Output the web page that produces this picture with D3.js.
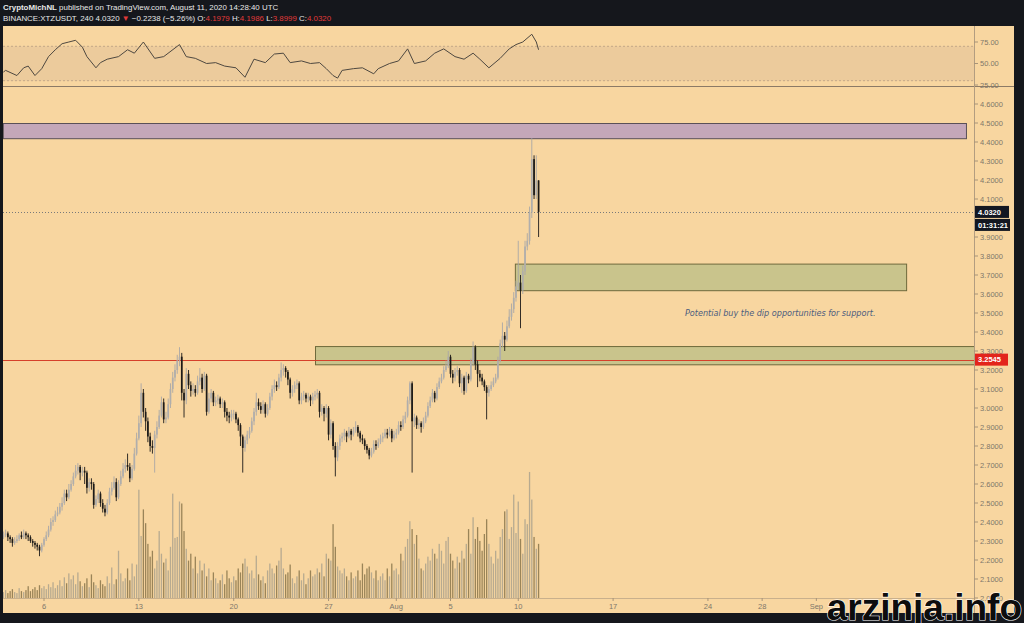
<!DOCTYPE html>
<html><head><meta charset="utf-8">
<script src="https://cdn.jsdelivr.net/npm/d3@7"></script>
<style>html,body{margin:0;padding:0;background:#15171c;}svg{display:block;}</style>
</head><body><svg id="c" width="1024" height="623"></svg>
<script>
// ---- DATA (BINANCE:XTZUSDT, 4h candles from 2020-07-03 00:00 UTC) ----
const firstOpen = 2.32;
const closes = [
 2.33,2.34,2.32,2.31,2.29,2.30, 2.31,2.33,2.32,2.34,2.33,2.32, 2.30,2.29,2.28,2.27,2.25,2.28,
 2.31,2.33,2.36,2.40,2.41,2.44, 2.45,2.48,2.50,2.55,2.53,2.57, 2.60,2.64,2.67,2.69,2.66,2.67,
 2.66,2.58,2.61,2.60,2.49,2.52, 2.55,2.50,2.47,2.45,2.50,2.56, 2.58,2.61,2.53,2.60,2.64,2.68,
 2.70,2.69,2.63,2.68,2.76,2.84, 2.92,3.08,2.98,2.93,2.85,2.80, 2.79,2.86,2.90,2.96,3.03,2.94,
 2.95,3.02,3.10,3.16,3.20,3.25, 3.27,3.08,3.04,3.18,3.12,3.09, 3.10,3.08,3.14,3.16,3.10,3.17,
 2.98,3.05,3.08,3.03,3.04,3.05, 3.02,3.03,2.98,2.96,2.95,2.97, 2.97,2.94,2.91,2.85,2.79,2.83,
 2.86,2.88,2.93,2.98,3.03,3.01, 2.99,3.02,2.97,3.00,3.06,3.10, 3.12,3.11,3.16,3.20,3.21,3.19,
 3.15,3.08,3.10,3.12,3.13,3.04, 3.06,3.07,3.05,3.06,3.04,3.06, 3.07,3.08,2.98,3.00,2.97,3.00,
 2.86,2.92,2.80,2.74,2.80,2.84, 2.85,2.87,2.85,2.88,2.86,2.88, 2.90,2.87,2.84,2.83,2.80,2.78,
 2.75,2.77,2.81,2.80,2.82,2.84, 2.85,2.87,2.86,2.88,2.84,2.86, 2.87,2.91,2.90,2.94,2.96,3.04,
 3.13,2.93,2.95,2.91,2.92,2.90, 2.93,2.96,3.01,3.04,3.08,3.05, 3.11,3.14,3.16,3.20,3.22,3.27,
 3.18,3.16,3.19,3.20,3.13,3.16, 3.09,3.17,3.15,3.24,3.32,3.23, 3.18,3.16,3.14,3.11,3.08,3.10,
 3.12,3.14,3.16,3.25,3.34,3.38, 3.36,3.43,3.48,3.52,3.58,3.64, 3.66,3.62,3.72,3.85,3.88,4.03,
 4.31,4.12,4.1979,4.032];
const highs = [
 2.35,2.36,2.35,2.33,2.32,2.32, 2.33,2.34,2.35,2.36,2.35,2.34, 2.33,2.31,2.30,2.29,2.28,2.29,
 2.32,2.35,2.38,2.42,2.43,2.46, 2.48,2.50,2.53,2.57,2.57,2.60, 2.62,2.66,2.70,2.71,2.70,2.69,
 2.69,2.67,2.63,2.63,2.61,2.54, 2.57,2.56,2.52,2.49,2.52,2.58, 2.61,2.64,2.63,2.62,2.67,2.71,
 2.73,2.76,2.71,2.70,2.79,2.87, 2.96,3.13,3.10,3.00,2.95,2.87, 2.83,2.88,2.93,2.99,3.06,3.05,
 2.98,3.05,3.13,3.19,3.23,3.28, 3.32,3.29,3.10,3.21,3.20,3.14, 3.13,3.12,3.17,3.21,3.18,3.19,
 3.18,3.08,3.10,3.09,3.06,3.07, 3.06,3.05,3.04,3.00,2.98,2.99, 2.99,2.98,2.95,2.92,2.86,2.85,
 2.88,2.90,2.95,3.00,3.08,3.05, 3.03,3.04,3.03,3.02,3.08,3.12, 3.15,3.14,3.18,3.24,3.23,3.22,
 3.20,3.16,3.12,3.14,3.15,3.14, 3.08,3.09,3.08,3.08,3.07,3.08, 3.09,3.10,3.09,3.02,3.01,3.02,
 3.01,2.94,2.93,2.82,2.82,2.86, 2.87,2.89,2.88,2.90,2.89,2.90, 2.93,2.91,2.88,2.86,2.84,2.81,
 2.79,2.79,2.83,2.83,2.84,2.86, 2.87,2.89,2.89,2.90,2.89,2.88, 2.89,2.93,2.93,2.96,2.98,3.06,
 3.14,3.14,2.97,2.96,2.94,2.93, 2.95,2.98,3.03,3.06,3.10,3.09, 3.13,3.16,3.18,3.22,3.25,3.30,
 3.28,3.20,3.21,3.22,3.21,3.18, 3.17,3.19,3.18,3.26,3.35,3.33, 3.25,3.20,3.18,3.15,3.12,3.12,
 3.14,3.16,3.18,3.27,3.36,3.45, 3.40,3.46,3.52,3.55,3.61,3.67, 3.88,3.70,3.75,3.88,3.92,4.06,
 4.42,4.33,4.33,4.1986];
const lows = [
 2.31,2.32,2.30,2.29,2.27,2.28, 2.29,2.30,2.31,2.31,2.31,2.30, 2.29,2.27,2.26,2.25,2.22,2.24,
 2.27,2.30,2.32,2.35,2.38,2.40, 2.43,2.44,2.46,2.49,2.51,2.52, 2.56,2.59,2.63,2.65,2.62,2.64,
 2.60,2.55,2.56,2.57,2.47,2.48, 2.50,2.48,2.45,2.43,2.44,2.49, 2.54,2.57,2.51,2.52,2.59,2.63,
 2.66,2.67,2.61,2.62,2.67,2.75, 2.83,2.90,2.95,2.88,2.82,2.77, 2.76,2.66,2.84,2.89,2.95,2.92,
 2.92,2.94,3.00,3.08,3.14,3.18, 3.22,3.04,2.95,3.02,3.10,3.06, 3.07,3.06,3.07,3.12,3.08,3.09,
 2.96,2.97,3.03,3.01,3.01,3.02, 3.00,3.00,2.95,2.93,2.92,2.93, 2.94,2.92,2.88,2.80,2.66,2.77,
 2.81,2.84,2.87,2.91,2.96,2.99, 2.97,2.97,2.95,2.96,2.99,3.04, 3.08,3.09,3.10,3.14,3.17,3.16,
 3.12,3.05,3.06,3.08,3.10,3.02, 3.02,3.04,3.03,3.03,3.01,3.02, 3.04,3.05,2.95,2.96,2.93,2.95,
 2.83,2.84,2.78,2.64,2.72,2.78, 2.82,2.83,2.82,2.84,2.83,2.85, 2.87,2.85,2.82,2.81,2.78,2.76,
 2.73,2.74,2.76,2.78,2.79,2.81, 2.82,2.84,2.84,2.85,2.82,2.83, 2.84,2.86,2.88,2.89,2.92,2.95,
 3.02,2.66,2.90,2.89,2.89,2.87, 2.89,2.92,2.95,3.00,3.03,3.03, 3.04,3.10,3.13,3.15,3.19,3.21,
 3.16,3.13,3.14,3.17,3.11,3.08, 3.07,3.08,3.13,3.14,3.22,3.20, 3.11,3.14,3.12,3.09,2.94,3.06,
 3.09,3.11,3.13,3.15,3.24,3.32, 3.30,3.35,3.42,3.46,3.50,3.56, 3.62,3.42,3.60,3.70,3.83,3.86,
 4.00,4.10,4.10,3.8999];
const volumes = [
 6,8,5,7,9,6, 5,10,7,6,8,12, 7,9,11,8,13,10, 12,9,14,11,16,10, 13,18,12,21,15,25, 19,23,14,26,17,12,
 15,20,11,24,16,13, 10,18,14,12,22,15, 31,14,19,48,25,17, 20,30,18,35,22,34, 110,63,90,76,55,42,
 48,30,38,68,45,36, 40,28,52,106,61,62, 98,96,68,50,38,45, 30,42,25,38,28,35, 22,30,18,26,20,15,
 18,24,14,28,20,16, 22,18,30,26,35,40, 32,25,28,20,43,24, 18,22,15,28,35,30, 25,33,38,51,30,24,
 26,34,20,15,22,28, 18,25,14,20,28,22, 24,30,26,35,22,45, 40,38,75,52,32,28, 25,30,22,18,26,20,
 22,28,18,35,24,30, 32,26,20,28,18,22, 25,18,30,22,35,28, 30,24,45,38,52,60, 78,70,55,64,40,30,
 28,35,42,38,50,45, 40,55,48,35,58,62, 45,38,30,42,36,48, 40,55,70,45,82,60, 72,58,48,65,80,55,
 42,35,48,40,62,70, 88,90,60,72,105,66, 98,60,45,80,75,128, 100,62,50,55];
// RSI(14) readings at given candle indices
const rsiBars = [0,1,6,9,11,14,17,20,23,26,29,32,35,37,41,43,46,51,55,58,62,67,71,78,81,85,90,94,98,103,107,111,116,120,124,127,132,136,140,143,146,148,150,155,159,164,166,171,175,179,182,187,191,195,200,204,208,211,215,220,224,227,230,234,236,237];
const rsiValues = [40,42,36,45,47,36,44,58,66,73,75,77,69,58,45,51,55,58,66,62,75,56,58,72,58,56,50,51,47,45,34,55,51,61,62,51,53,50,51,44,36,33,42,44,45,38,44,50,53,67,50,53,62,67,58,55,62,55,45,56,67,72,75,84,75,66];
const rsiLevels = [75,50,25];
const priceTicks = [2.0,2.1,2.2,2.3,2.4,2.5,2.6,2.7,2.8,2.9,3.0,3.1,3.2,3.3,3.4,3.5,3.6,3.7,3.8,3.9,4.1,4.2,4.3,4.4,4.5,4.6];
const timeTicks = [Date.UTC(2020,6,6),Date.UTC(2020,6,13),Date.UTC(2020,6,20),Date.UTC(2020,6,27),Date.UTC(2020,7,1),Date.UTC(2020,7,5),Date.UTC(2020,7,10),Date.UTC(2020,7,17),Date.UTC(2020,7,24),Date.UTC(2020,7,28),Date.UTC(2020,8,1)];
const timeLabels = ["6","13","20","27","Aug","5","10","17","24","28","Sep"];
// zones: [startTime, endTime, lowPrice, highPrice]
const zoneNames = ["resistance","buy1","buy2"];
const zoneStart = [Date.UTC(2020,6,2,23), Date.UTC(2020,7,9,18), Date.UTC(2020,6,26,0)];
const zoneEnd   = [Date.UTC(2020,8,12,1), Date.UTC(2020,8,7,15), Date.UTC(2020,8,12,16)];
const zoneLow   = [4.42, 3.62, 3.23];
const zoneHigh  = [4.50, 3.76, 3.326];
const lastPrice = 4.0320, supportLine = 3.2545;
const startTime = Date.UTC(2020,6,3,0), barMs = 4*3600*1000;

// ---- DRAW ----
const svg = d3.select("#c");
const BG = "#f8d6a0";
svg.append("rect").attr("width",1024).attr("height",623).attr("fill","#15171c");
svg.append("rect").attr("x",3).attr("y",26).attr("width",1011).attr("height",587).attr("fill",BG);

const x = d3.scaleUtc().domain([Date.UTC(2020,6,2,23,22), Date.UTC(2020,8,12,15,14)]).range([3,974]);
const y = d3.scaleLinear().domain([2.0,4.6]).range([598,104]);
const yR = d3.scaleLinear().domain([25,75]).range([85,42]);
const yV = d3.scaleLinear().domain([0,130]).range([598,470]);

const bars = closes.map((c,i)=>({t:startTime+i*barMs, o: i===0?firstOpen:closes[i-1], h:highs[i], l:lows[i], c:c, v:volumes[i]}));

svg.append("clipPath").attr("id","cm").append("rect").attr("x",3).attr("y",87).attr("width",971).attr("height",511);
svg.append("clipPath").attr("id","cr").append("rect").attr("x",3).attr("y",26).attr("width",971).attr("height",60);

// RSI panel
const rp = svg.append("g").attr("clip-path","url(#cr)");
rp.append("rect").attr("x",3).attr("width",971).attr("y",yR(70)).attr("height",yR(30)-yR(70)).attr("fill","rgba(120,95,120,0.09)");
[70,30].forEach(v=>rp.append("line").attr("x1",3).attr("x2",974).attr("y1",yR(v)).attr("y2",yR(v)).attr("stroke","#c4a888").attr("stroke-dasharray","2,2"));
const rsiPts = rsiBars.map((b,i)=>[x(startTime+b*barMs), yR(rsiValues[i])]);
rp.append("path").attr("d",d3.line()(rsiPts)).attr("fill","none").attr("stroke","#4e4840").attr("stroke-width",1);
svg.append("line").attr("x1",3).attr("x2",1014).attr("y1",86.5).attr("y2",86.5).attr("stroke","#8c7a66").attr("stroke-width",1);

// main
const mp = svg.append("g").attr("clip-path","url(#cm)");
// volume
mp.selectAll("rect.v").data(bars).join("rect").attr("class","v")
  .attr("x",d=>x(d.t)-0.65).attr("width",1.3)
  .attr("y",d=>yV(d.v)).attr("height",d=>yV(0)-yV(d.v))
  .attr("fill",d=>d.c>=d.o?"#b7aa90":"#9a8458");
// zones
const zoneFill = ["#c4a7b9","#c9c48c","#c9c48c"], zoneStroke=["#5a5058","#6f6a3c","#6f6a3c"];
zoneNames.forEach((n,i)=>{
  mp.append("rect").attr("x",x(zoneStart[i])+0.5).attr("y",y(zoneHigh[i])+0.5)
    .attr("width",x(zoneEnd[i])-x(zoneStart[i])).attr("height",y(zoneLow[i])-y(zoneHigh[i]))
    .attr("fill",zoneFill[i]).attr("stroke",zoneStroke[i]).attr("stroke-width",1);
});
// lines
mp.append("line").attr("x1",3).attr("x2",974).attr("y1",Math.round(y(lastPrice))+0.5).attr("y2",Math.round(y(lastPrice))+0.5)
  .attr("stroke","#7a7a7a").attr("stroke-dasharray","1,2");
mp.append("line").attr("x1",3).attr("x2",974).attr("y1",Math.round(y(supportLine))+0.5).attr("y2",Math.round(y(supportLine))+0.5)
  .attr("stroke","#d6402a").attr("stroke-width",1);
// candles
const cg = mp.append("g");
cg.selectAll("line").data(bars).join("line")
  .attr("x1",d=>x(d.t)).attr("x2",d=>x(d.t)).attr("y1",d=>y(d.h)).attr("y2",d=>y(d.l))
  .attr("stroke",d=>d.c>=d.o?"#a9a7a6":"#1c1a18").attr("stroke-width",0.9);
cg.selectAll("rect").data(bars).join("rect")
  .attr("x",d=>x(d.t)-0.85).attr("width",1.7)
  .attr("y",d=>y(Math.max(d.o,d.c))).attr("height",d=>Math.max(1,Math.abs(y(d.o)-y(d.c))))
  .attr("fill",d=>d.c>=d.o?"#b0aeac":"#1c1a18");
// annotation
mp.append("text").attr("x",x(Date.UTC(2020,7,29,8))).attr("y",y(3.485)).attr("text-anchor","middle")
  .attr("font-family","'DejaVu Sans', sans-serif").attr("font-style","italic").attr("font-size","8.1px").attr("fill","#4d5d7e")
  .text("Potential buy the dip opportunities for support.");

// axes lines
svg.append("line").attr("x1",974.5).attr("x2",974.5).attr("y1",26).attr("y2",613).attr("stroke","#b39d80");
svg.append("line").attr("x1",3).attr("x2",974).attr("y1",598.5).attr("y2",598.5).attr("stroke","#c9b08c");

const AX = "#80766a", FF = "'Liberation Sans', Arial, sans-serif";
// price axis
const pa = svg.append("g");
priceTicks.forEach(p=>{
  pa.append("line").attr("x1",974).attr("x2",978).attr("y1",y(p)).attr("y2",y(p)).attr("stroke","#a89478");
  pa.append("text").attr("x",980).attr("y",y(p)+2.6).attr("font-family",FF).attr("font-size","7.5px").attr("fill",AX).text(d3.format(".4f")(p));
});
// rsi axis
rsiLevels.forEach(v=>{
  pa.append("line").attr("x1",974).attr("x2",978).attr("y1",yR(v)).attr("y2",yR(v)).attr("stroke","#a89478");
  pa.append("text").attr("x",980).attr("y",yR(v)+2.6).attr("font-family",FF).attr("font-size","7.5px").attr("fill",AX).text(d3.format(".2f")(v));
});
// time axis
timeTicks.forEach((t,i)=>{
  svg.append("line").attr("x1",x(t)).attr("x2",x(t)).attr("y1",598).attr("y2",601).attr("stroke","#a89478");
  svg.append("text").attr("x",x(t)).attr("y",609).attr("text-anchor","middle").attr("font-family",FF).attr("font-size","7.5px").attr("fill",AX).text(timeLabels[i]);
});
// price labels
function tag(py, txt, bg, w){
  svg.append("rect").attr("x",975).attr("y",py-6).attr("width",w).attr("height",12).attr("fill",bg);
  svg.append("text").attr("x",978).attr("y",py+2.7).attr("font-family",FF).attr("font-size","7.5px").attr("font-weight","bold").attr("fill","#fff").text(txt);
}
tag(y(lastPrice), d3.format(".4f")(lastPrice), "#131722", 34);
tag(y(lastPrice)+13, "01:31:21", "#131722", 35);
tag(y(supportLine), d3.format(".4f")(supportLine), "#e3241b", 33);

// header
const hd = svg.append("g").attr("font-family",FF).attr("font-size","7.9px").attr("fill","#e8e8e8");
const l1 = hd.append("text").attr("x",3).attr("y",9.5);
l1.append("tspan").attr("font-weight","bold").text("CryptoMichNL");
l1.append("tspan").text(" published on TradingView.com, August 11, 2020 14:28:40 UTC");
const l2 = hd.append("text").attr("x",3).attr("y",20.5);
l2.append("tspan").text("BINANCE:XTZUSDT, 240  4.0320 ");
l2.append("tspan").attr("fill","#e23a3a").text("▼");
l2.append("tspan").text(" −0.2238 (−5.26%)  O:");
l2.append("tspan").attr("fill","#e23a3a").text("4.1979");
l2.append("tspan").text(" H:");
l2.append("tspan").attr("fill","#e23a3a").text("4.1986");
l2.append("tspan").text(" L:");
l2.append("tspan").attr("fill","#e23a3a").text("3.8999");
l2.append("tspan").text(" C:");
l2.append("tspan").attr("fill","#e23a3a").text("4.0320");

// watermark
svg.append("text").attr("x",1022).attr("y",620).attr("text-anchor","end")
  .attr("font-family",FF).attr("font-weight","bold").attr("font-size","37px")
  .attr("fill","#0d0d0d").attr("stroke","#ffffff").attr("stroke-width",1.2).attr("paint-order","stroke")
  .text("arzinja.info");
</script></body></html>
